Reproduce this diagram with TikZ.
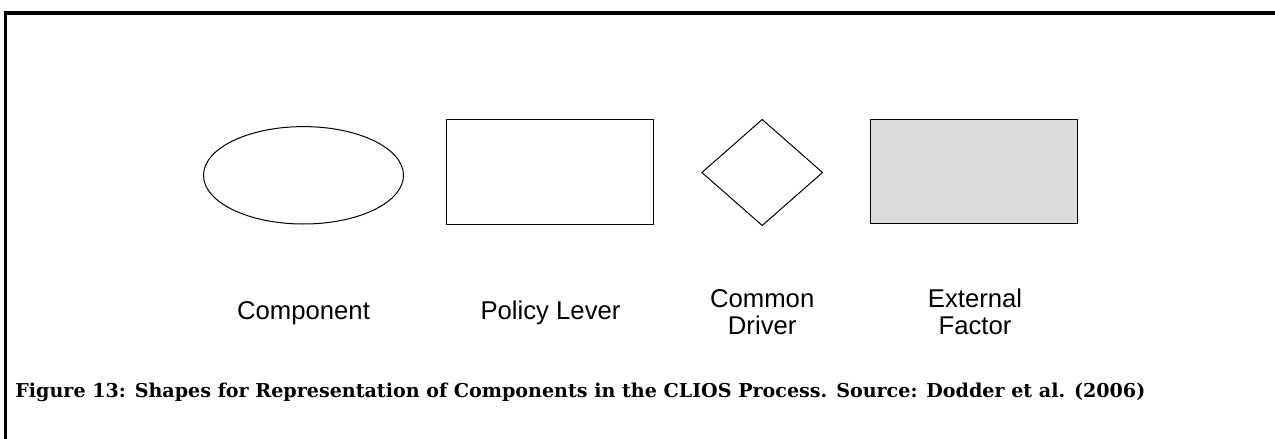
\documentclass[tikz,border=0pt]{standalone}
\usepackage{fontspec}
\setmainfont{Liberation Serif}
\newfontfamily\labelfont{Liberation Sans}
\newfontfamily\captionfont{DejaVu Serif}
\usetikzlibrary{shapes.geometric}
\definecolor{extgray}{HTML}{DCDCDC}
\tikzset{
  shapeline/.style={draw=black, line width=0.5pt},
  shapelabel/.style={font=\labelfont\fontsize{12.85}{13.5}\selectfont, align=center, inner sep=0pt},
  framerule/.style={line width=2pt},
}
\begin{document}
\begin{tikzpicture}[x=0.5pt, y=-0.5pt]
  \useasboundingbox (0,0) rectangle (1275,439);
  % frame: heavy top and left rules
  \coordinate (ftl) at (4,13);
  \coordinate (ftr) at (1275,13);
  \coordinate (fbl) at (5.5,439);
  \draw[framerule, line cap=butt] (ftl) -- (ftr);
  \draw[line width=1.6pt] (5.5,11) -- (fbl);

  % the four shape types
  \node[shapeline, ellipse, minimum width=100pt, minimum height=48.7pt, inner sep=0pt] (comp) at (303.5,175.3) {};
  \node[shapeline, rectangle, minimum width=103.5pt, minimum height=52.4pt, inner sep=0pt] (lever) at (549.5,171.6) {};
  \node[shapeline, diamond, minimum width=60.5pt, minimum height=53.2pt, inner sep=0pt, aspect=1.14] (driver) at (762.2,172.5) {};
  \node[shapeline, rectangle, fill=extgray, minimum width=103.9pt, minimum height=52pt, inner sep=0pt] (ext) at (974,171.3) {};

  % labels
  \node[shapelabel] (compl) at (303.5,313) {Component};
  \node[shapelabel] (leverl) at (550.5,313) {Policy Lever};
  \node[shapelabel] (driverl) at (762.2,312) {Common\\Driver};
  \node[shapelabel] (extl) at (975,312) {External\\Factor};

  % caption
  \node[anchor=base west, inner sep=0pt, font=\captionfont\bfseries\fontsize{9.55}{11}\selectfont] (cap) at (15,397)
    {Figure 13: Shapes for Representation of Components in the CLIOS Process. Source: Dodder et al. (2006)};
\end{tikzpicture}
\end{document}
